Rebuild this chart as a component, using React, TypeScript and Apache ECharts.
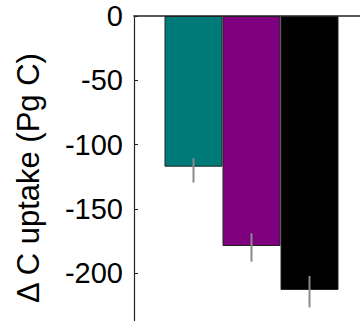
import React, { useEffect, useRef } from "react";
import * as echarts from "echarts";

const categories = [""];
const seriesNames = ["A", "B", "C"];
const barValues = [-117.2, -178.9, -213.1];
const errLow = [-110.7, -169.0, -202.2];
const errHigh = [-129.6, -191.1, -226.6];
const barColors = ["#007a78", "#7f007f", "#000000"];
const yTicks = { min: -250, max: 0, interval: 50 };
const yTitle = "Δ C uptake (Pg C)";

const BAR_W = 58;
const FONT = "'Liberation Sans', Arial, Helvetica, sans-serif";

export default function App() {
  const ref = useRef<HTMLDivElement>(null);
  useEffect(() => {
    if (!ref.current) return;
    const chart = echarts.init(ref.current, null, { renderer: "svg" });
    const bars = seriesNames.map((n, i) => ({
      name: n,
      type: "bar",
      data: [barValues[i]],
      barWidth: BAR_W,
      barGap: "0%",
      itemStyle: { color: barColors[i], borderColor: "#222", borderWidth: 1 },
      silent: true,
    }));
    const errData = seriesNames.map((_, i) => [0, errLow[i], errHigh[i], i]);
    chart.setOption({
      animation: false,
      grid: { left: 134, top: 16, width: 235, height: 321.4 },
      graphic: [
        {
          type: "text",
          x: 28,
          y: 178,
          rotation: Math.PI / 2,
          style: {
            text: yTitle,
            fontSize: 31,
            fill: "#000",
            fontFamily: FONT,
            align: "center",
            verticalAlign: "middle",
          },
        },
      ],
      xAxis: {
        type: "category",
        data: categories,
        position: "top",
        axisLine: { show: true, onZero: false, lineStyle: { color: "#222", width: 1.5 } },
        axisTick: { show: false },
        axisLabel: { show: false },
        splitLine: { show: false },
      },
      yAxis: {
        type: "value",
        min: yTicks.min,
        max: yTicks.max,
        interval: yTicks.interval,
        axisLine: { show: true, lineStyle: { color: "#222", width: 1.2 } },
        axisTick: { show: true, inside: true, length: 4, lineStyle: { color: "#222" } },
        axisLabel: {
          fontSize: 29,
          color: "#000",
          fontFamily: FONT,
          margin: 11,
          padding: [8, 0, 0, 0],
          showMinLabel: false,
        },
        splitLine: { show: false },
      },
      series: [
        ...bars,
        {
          type: "custom",
          data: errData,
          encode: { x: 0, y: [1, 2] },
          silent: true,
          z: 10,
          renderItem: (params: any, api: any) => {
            const a = api.coord([0, api.value(1)]);
            const b = api.coord([0, api.value(2)]);
            const x = a[0] + (api.value(3) - 1) * BAR_W;
            return {
              type: "line",
              shape: { x1: x, y1: a[1], x2: x, y2: b[1] },
              style: { stroke: "#8a8a8a", lineWidth: 2 },
            };
          },
        },
      ],
    });
    return () => chart.dispose();
  }, []);
  return (
    <div style={{ position: "fixed", left: 0, top: 0, width: 360, height: 321, overflow: "hidden", background: "#fff" }}>
      <div ref={ref} style={{ position: "absolute", left: 0, top: 0, width: 380, height: 345 }} />
    </div>
  );
}
